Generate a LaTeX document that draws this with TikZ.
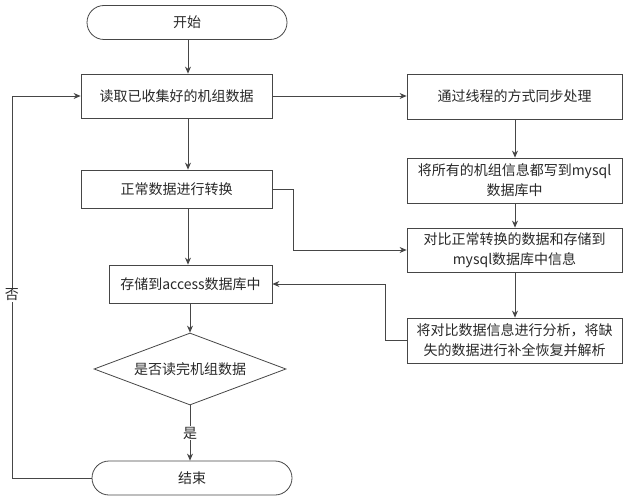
\documentclass[tikz,border=0pt]{standalone}
\usepackage{fontspec}
\setmainfont{Noto Sans CJK SC}
\usepackage{xcolor}
\usepackage{tikz}
\usetikzlibrary{shapes,arrows,positioning,calc,arrows.meta}
\definecolor{linegray}{RGB}{70,70,70}
\definecolor{textgray}{RGB}{40,40,40}

\begin{document}
\begin{tikzpicture}[x=1pt,y=-1pt,
    box/.style={draw=linegray, line width=0.8pt, text=textgray, align=center,
        font=\fontsize{14}{20}\selectfont, inner sep=0pt},
    terminal/.style={box, rounded corners=17pt, minimum width=200pt, minimum height=34pt},
    decision/.style={box, diamond, aspect=2.67, minimum width=192pt, minimum height=72pt},
    arr/.style={draw=linegray, line width=0.8pt, -{Stealth[length=7pt,width=6pt]}}]
    \useasboundingbox (0,0) rectangle (628,500);

    % Left column
    \node [terminal] (start) at (187,22.5) {开始};
    \node [box, minimum width=191pt, minimum height=44pt] (read) at (176.5,96) {读取已收集好的机组数据};
    \node [box, minimum width=191pt, minimum height=38pt] (conv) at (176.5,189) {正常数据进行转换};
    \node [box, minimum width=163pt, minimum height=38pt] (store) at (190.5,284) {存储到access数据库中};
    \node [decision] (judge) at (190,369) {是否读完机组数据};
    \node [terminal] (stop) at (192,478) {结束};

    % Right column
    \node [box, minimum width=215pt, minimum height=45pt] (sync) at (514.5,96.5) {通过线程的方式同步处理};
    \node [box, minimum width=215pt, minimum height=45pt] (write) at (514.5,180.5) {将所有的机组信息都写到mysql\\数据库中};
    \node [box, minimum width=215pt, minimum height=44pt] (cmp) at (514.5,250) {对比正常转换的数据和存储到\\mysql数据库中信息};
    \node [box, minimum width=215pt, minimum height=45pt] (fix) at (514.5,340.5) {将对比数据信息进行分析，将缺\\失的数据进行补全恢复并解析};

    % Bend points
    \coordinate (spine) at (188,0);
    \coordinate (loopx) at (12,0);
    \coordinate (bendA) at (293,0);
    \coordinate (bendB) at (385,0);
    \coordinate (rspine) at (515,0);

    % Main flow
    \draw [arr] (start.south -| spine) -- (read.north -| spine);
    \draw [arr] (read.south -| spine) -- (conv.north -| spine);
    \draw [arr] (conv.south -| spine) -- (store.north -| spine);
    \draw [arr] (store.south -| judge) -- (judge.north);
    \draw [arr] (judge.south) -- node [fill=white, text=textgray, font=\fontsize{14}{16}\selectfont, inner sep=1pt] {是} (judge.south |- stop.north);
    \draw [arr] (stop.west) -- (stop.west -| loopx) -- node [fill=white, text=textgray, font=\fontsize{14}{16}\selectfont, inner sep=1pt, pos=0.48] {否} (read.west -| loopx) -- (read.west);

    % Side flow
    \draw [arr] (read.east) -- (read.east -| sync.west);
    \draw [arr] (sync.south -| rspine) -- (write.north -| rspine);
    \draw [arr] (write.south -| rspine) -- (cmp.north -| rspine);
    \draw [arr] (cmp.south -| rspine) -- (fix.north -| rspine);
    \draw [arr] (conv.east) -- (conv.east -| bendA) |- (cmp.west);
    \draw [arr] (fix.west) -- (fix.west -| bendB) |- (store.east);
\end{tikzpicture}
\end{document}
